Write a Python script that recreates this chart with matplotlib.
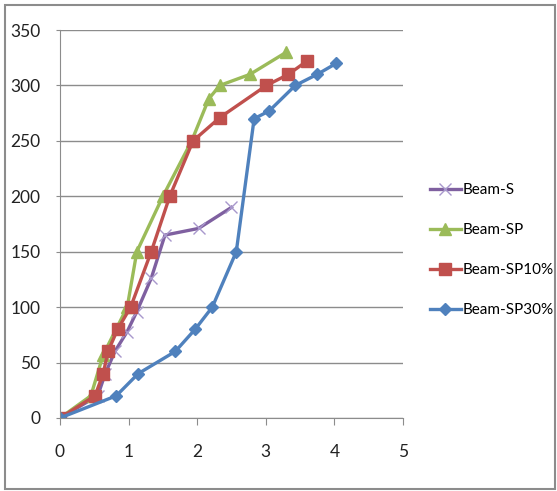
import matplotlib
matplotlib.use("Agg")
import matplotlib.pyplot as plt
from matplotlib.patches import Rectangle

plt.rcParams["font.family"] = ["Lato", "DejaVu Sans"]

# load-deflection style data
s_x = [0, 0.55, 0.66, 0.80, 0.98, 1.12, 1.33, 1.53, 2.02, 2.50]
s_y = [0, 20, 40, 60, 78, 96, 126, 165, 171, 190]

sp_x = [0, 0.45, 0.63, 0.98, 1.12, 1.50, 1.92, 2.17, 2.33, 2.77, 3.30]
sp_y = [0, 20, 57, 100, 150, 200, 250, 288, 300, 310, 330]

sp10_x = [0, 0.51, 0.63, 0.70, 0.84, 1.03, 1.33, 1.60, 1.94, 2.33, 3.01, 3.33, 3.60]
sp10_y = [0, 20, 40, 60, 80, 100, 150, 200, 250, 271, 300, 310, 322]

sp30_x = [0, 0.82, 1.14, 1.68, 1.97, 2.22, 2.57, 2.83, 3.05, 3.43, 3.75, 4.03]
sp30_y = [0, 20, 40, 60, 80, 100, 150, 270, 277, 300, 310, 320]

labels = ["Beam-S", "Beam-SP", "Beam-SP10%", "Beam-SP30%"]
x_ticks = [0, 1, 2, 3, 4, 5]
y_ticks = [0, 50, 100, 150, 200, 250, 300, 350]

fig = plt.figure(figsize=(5.57, 4.91), dpi=100)
ax = fig.add_axes([0.1077, 0.1487, 0.6158, 0.7902])

ax.plot(s_x, s_y, color="#7F60A0", lw=2.4, marker="x", ms=9, mew=1,
        mec="#A898CC", label=labels[0])
ax.plot(sp_x, sp_y, color="#9BBB59", lw=2.4, marker="^", ms=9,
        label=labels[1])
ax.plot(sp10_x, sp10_y, color="#C0504D", lw=2.4, marker="s", ms=9,
        label=labels[2])
ax.plot(sp30_x, sp30_y, color="#4F81BD", lw=2.4, marker="D", ms=6.5,
        label=labels[3])

ax.set_xlim(0, 5)
ax.set_ylim(0, 350)
ax.set_xticks(x_ticks)
ax.set_yticks(y_ticks)
ax.yaxis.grid(True, color="#8C8C8C", lw=1)
ax.set_axisbelow(True)
for side in ("top", "right"):
    ax.spines[side].set_visible(False)
for side in ("left", "bottom"):
    ax.spines[side].set_color("#8C8C8C")
ax.tick_params(axis="x", length=5, color="#8C8C8C", labelsize=12.5, pad=14)
ax.tick_params(axis="y", length=3, color="#8C8C8C", labelsize=12.5, pad=11)
for lab in ax.get_xticklabels() + ax.get_yticklabels():
    lab.set_color("#222222")

fig.legend(loc="center left", bbox_to_anchor=(0.772, 0.49), frameon=False,
           fontsize=11, handlelength=2.0, handletextpad=0.15,
           labelspacing=1.7, borderpad=0, borderaxespad=0)

fig.patches.append(Rectangle((0.009, 0.004), 0.988, 0.986,
                             transform=fig.transFigure, fill=False,
                             edgecolor="#8C8C8C", lw=1.5))

fig.savefig("out.png", dpi=100)
